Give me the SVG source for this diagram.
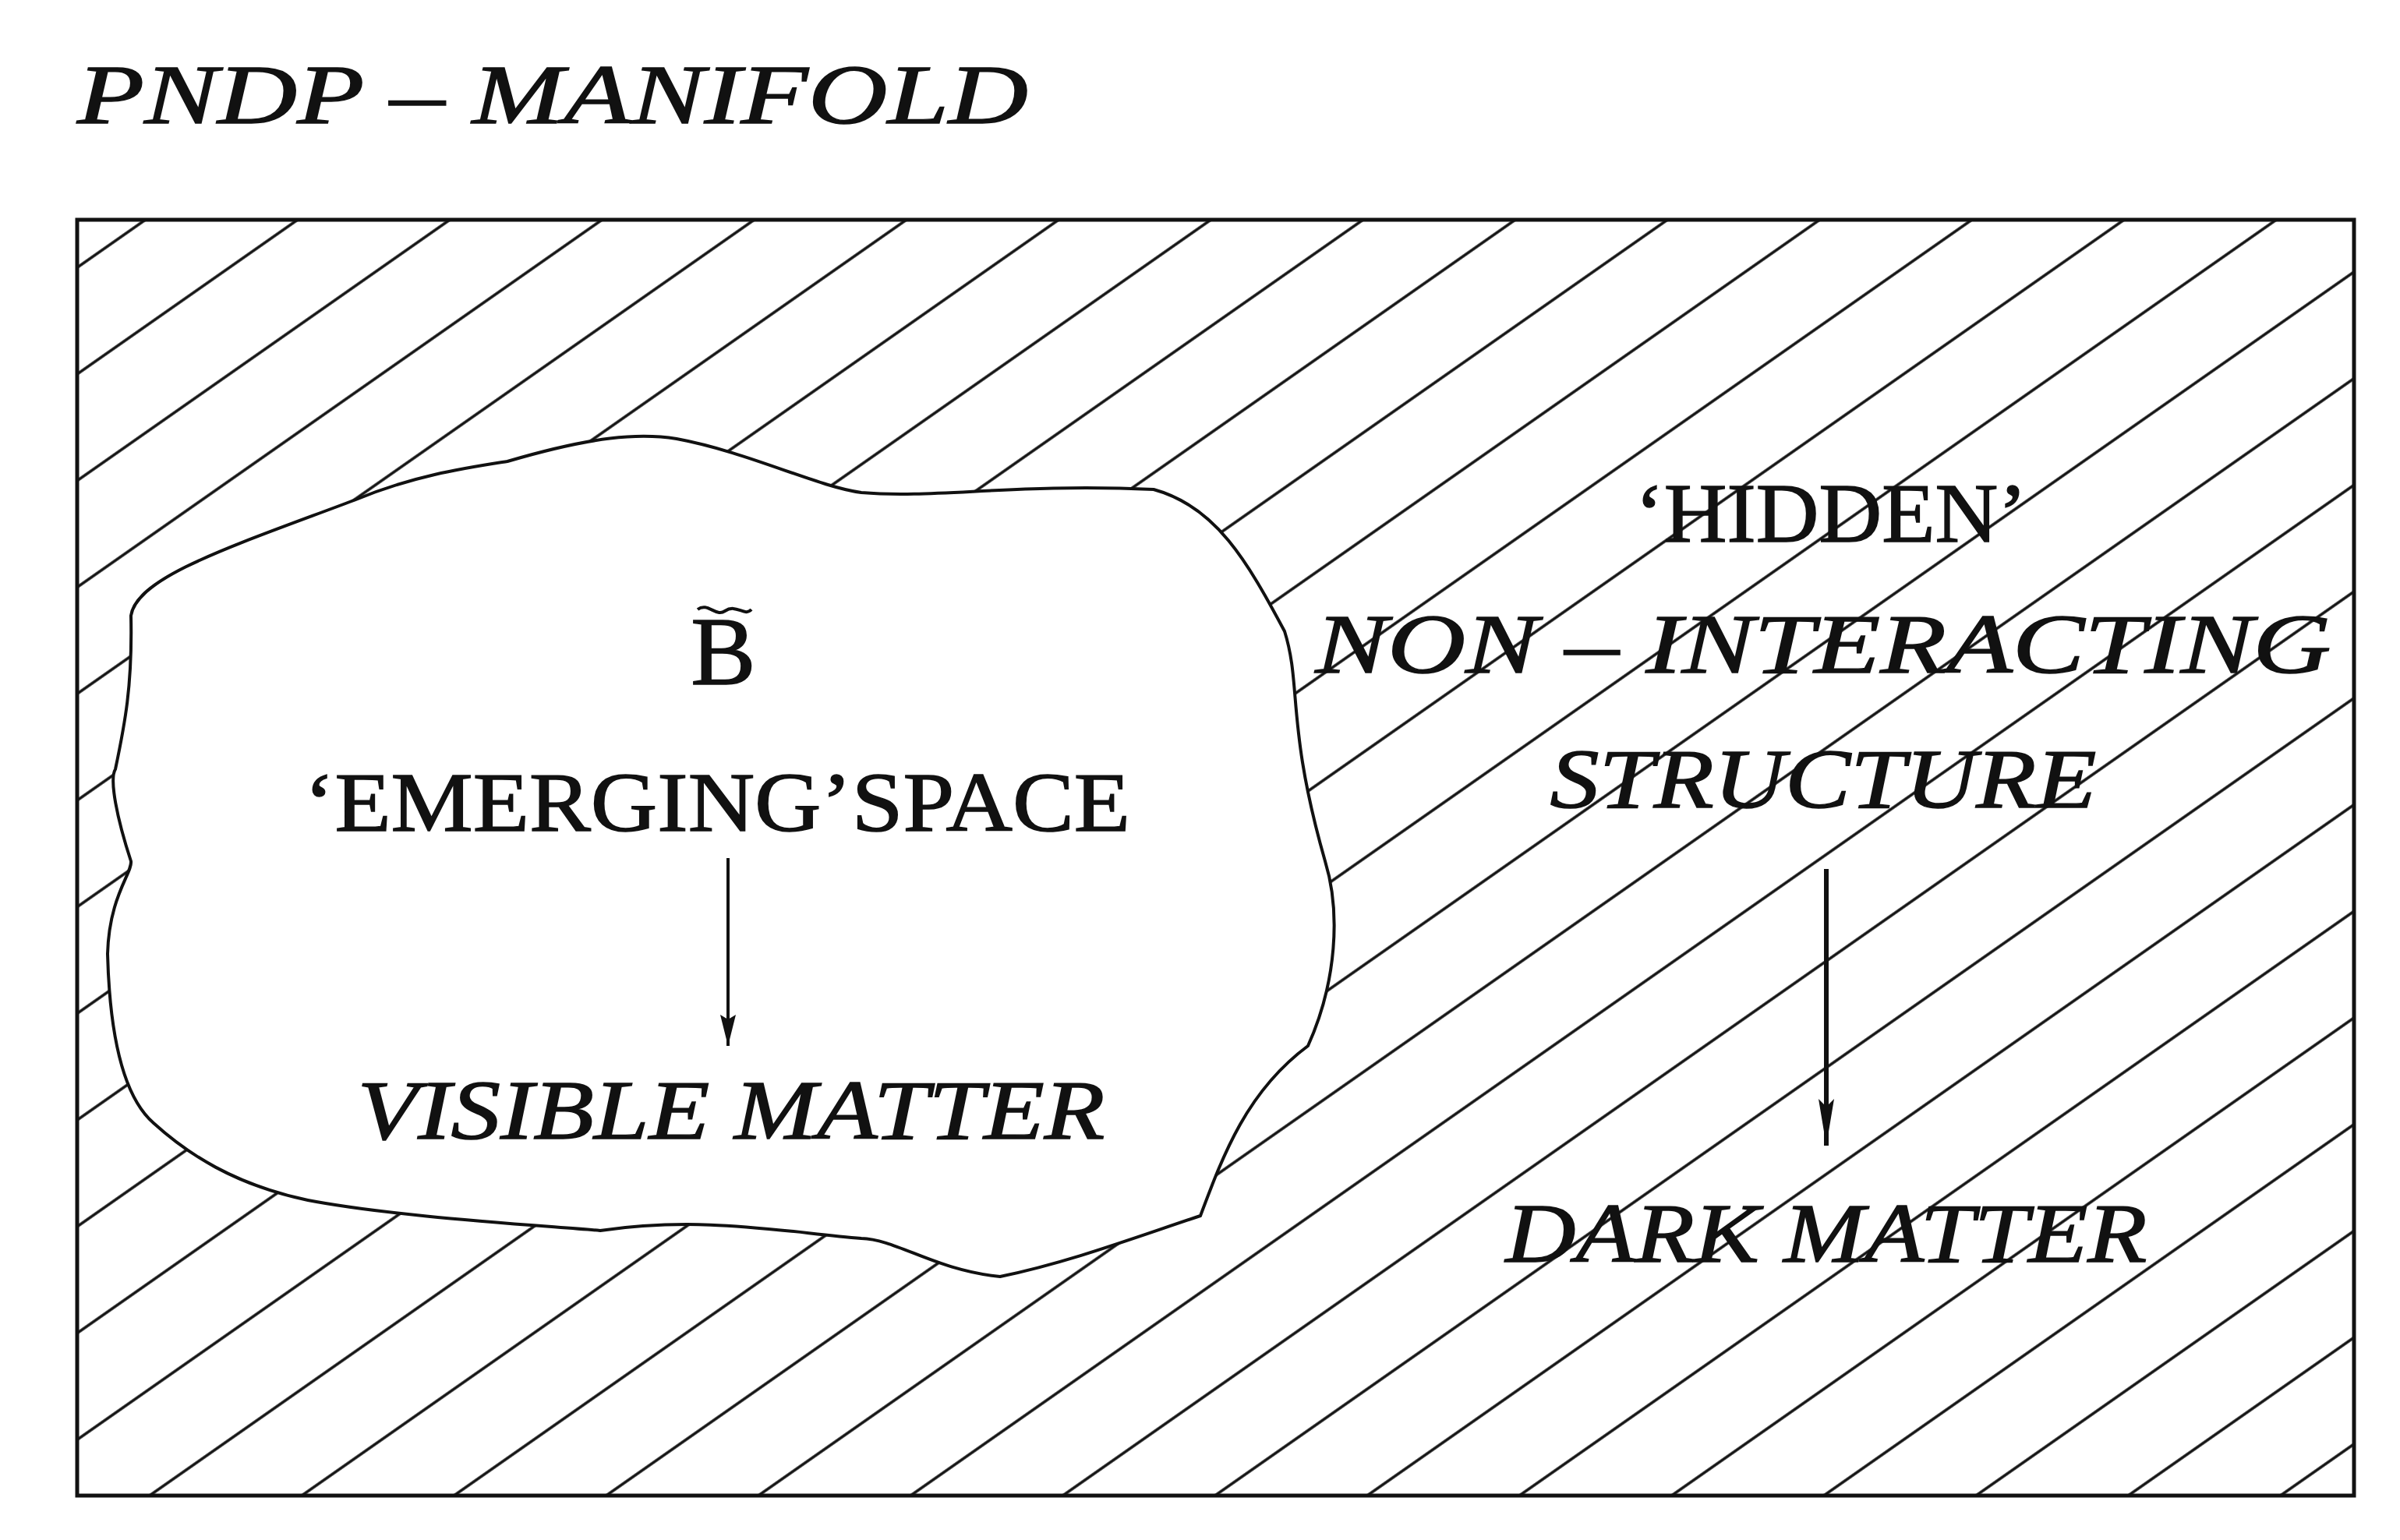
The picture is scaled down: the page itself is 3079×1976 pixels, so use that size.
<svg xmlns="http://www.w3.org/2000/svg" width="3079" height="1976" viewBox="0 0 3079 1976">
<style>
.t{font-family:"Liberation Serif",serif;font-style:italic;font-size:108px;fill:#111;text-anchor:middle;stroke:#111;stroke-width:1.5}
.ln{stroke:#111;stroke-width:4;fill:none}
</style>
<defs>
<pattern id="hatch" patternUnits="userSpaceOnUse" width="112" height="20" patternTransform="rotate(55)">
<line x1="2" y1="0" x2="2" y2="20" stroke="#111" stroke-width="3.5"/>
</pattern>
<marker id="ah" viewBox="0 0 20 40" markerWidth="20" markerHeight="40" refX="10" refY="40" orient="0" markerUnits="userSpaceOnUse"><path d="M0,0 L10,40 L20,0 L10,6 Z" fill="#111"/></marker>
<marker id="ah2" viewBox="0 0 20 60" markerWidth="20" markerHeight="60" refX="10" refY="60" orient="0" markerUnits="userSpaceOnUse"><path d="M0,0 L10,60 L20,0 L10,10 Z" fill="#111"/></marker>
</defs>
<rect width="3079" height="1976" fill="#fff"/>
<text id="title" x="99" y="158" class="t" style="text-anchor:start" textLength="1220" lengthAdjust="spacingAndGlyphs">PNDP – MANIFOLD</text>
<g id="manifold">
<rect x="99" y="282" width="2921" height="1637" fill="url(#hatch)" stroke="#111" stroke-width="5"/>
</g>
<g id="emerging-space">
<path class="ln" style="fill:#fff" d="M168,790 C175,740 300,700 454,642 C530,610 600,600 651,592 C760,560 820,555 868,563 C960,580 1050,625 1105,632 C1200,640 1300,620 1480,628 C1560,650 1600,720 1648,810 C1670,880 1650,930 1700,1105 C1720,1170 1715,1260 1678,1342 C1600,1400 1570,1480 1540,1560 C1450,1590 1370,1620 1283,1638 C1200,1630 1150,1590 1105,1589 C1000,1580 900,1560 770,1579 C660,1570 500,1560 395,1540 C300,1520 240,1480 197,1441 C150,1400 140,1300 138,1224 C140,1150 170,1120 168,1105 C150,1050 140,1000 148,987 C160,930 170,880 168,790 Z"/>
<text x="928" y="878" class="t" style="font-size:125px;font-style:normal">B</text>
<path d="M895,782 C908,772 918,792 930,784 C945,774 955,792 964,782" class="ln" stroke-width="5"/>
<text x="920" y="1066" class="t" style="font-style:normal" textLength="1060" lengthAdjust="spacingAndGlyphs">‘EMERGING’SPACE</text>
<line x1="934" y1="1101" x2="934" y2="1342" class="ln" marker-end="url(#ah)"/>
<text x="938" y="1461" class="t" textLength="959" lengthAdjust="spacingAndGlyphs">VISIBLE MATTER</text>
</g>
<g id="hidden-structure">
<text x="2349" y="695" class="t" style="font-style:normal" textLength="503" lengthAdjust="spacingAndGlyphs">‘HIDDEN’</text>
<text x="2339" y="863" class="t" textLength="1303" lengthAdjust="spacingAndGlyphs">NON – INTERACTING</text>
<text x="2339" y="1036" class="t" textLength="701" lengthAdjust="spacingAndGlyphs">STRUCTURE</text>
<text x="2343" y="1619" class="t" textLength="823" lengthAdjust="spacingAndGlyphs">DARK MATTER</text>
</g>
<g id="connectors">
<line x1="2343" y1="1115" x2="2343" y2="1470" stroke="#111" stroke-width="6" marker-end="url(#ah2)"/>
</g>
</svg>
